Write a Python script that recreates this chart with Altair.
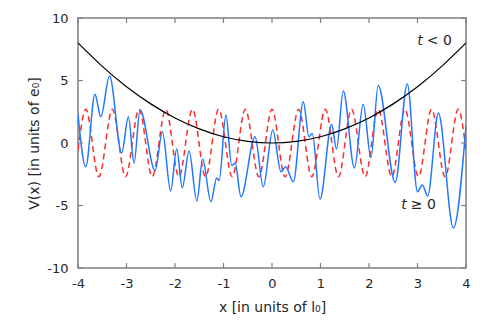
import altair as alt
import pandas as pd

# ---- data ----
# confining potential t < 0 (black)
par_x = [-4.0, -3.5, -3.0, -2.5, -2.0, -1.5, -1.0, -0.5, 0.0, 0.5, 1.0, 1.5, 2.0, 2.5, 3.0, 3.5, 4.0]
par_v = [8.0, 6.13, 4.5, 3.13, 2.0, 1.13, 0.5, 0.13, 0.0, 0.13, 0.5, 1.13, 2.0, 3.13, 4.5, 6.13, 8.0]

# periodic lattice (red dashed): extrema
red_x = [-4.0, -3.84, -3.57, -3.29, -3.02, -2.74, -2.47, -2.19, -1.92, -1.64, -1.37, -1.10, -0.82,
         -0.55, -0.27, 0.0, 0.27, 0.55, 0.82, 1.10, 1.37, 1.64, 1.92, 2.19, 2.47, 2.74, 3.02,
         3.29, 3.57, 3.84, 4.0]
red_v = [-0.6, 2.7, -2.7, 2.7, -2.7, 2.7, -2.7, 2.7, -2.7, 2.7, -2.7, 2.7, -2.7,
         2.7, -2.7, 2.7, -2.7, 2.7, -2.7, 2.7, -2.7, 2.7, -2.7, 2.7, -2.7, 2.7, -2.7,
         2.7, -2.7, 2.7, -0.6]

# disordered potential t >= 0 (blue)
blue_x = [-4.0, -3.84, -3.65, -3.53, -3.35, -3.10, -2.96, -2.845, -2.72, -2.41, -2.26, -2.09,
          -1.965, -1.85, -1.71, -1.55, -1.43, -1.26, -1.14, -1.09, -0.95, -0.83, -0.76, -0.64,
          -0.35, -0.18, 0.015, 0.186, 0.28, 0.44, 0.645, 0.763, 0.831, 0.99, 1.23, 1.33, 1.47,
          1.70, 1.88, 2.04, 2.19, 2.54, 2.79, 3.00, 3.10, 3.21, 3.43, 3.74, 4.0]
blue_v = [2.3, -1.9, 3.9, 2.1, 5.36, -0.8, 2.1, -1.6, 2.64, -2.2, 0.9, -3.84,
          -0.48, -3.57, -0.64, -4.64, -1.3, -4.7, -2.8, -3.0, 2.24, -1.8, -1.6, -4.3,
          0.5, -3.5, 1.04, -2.3, -1.9, -3.1, 3.3, 0.5, 0.77, -4.5, 1.5, -0.48, 4.16,
          -2.0, 3.1, -1.17, 4.6, -3.15, 4.72, -3.9, -3.36, -4.24, 2.4, -6.8, 1.4]

x_ticks = [-4, -3, -2, -1, 0, 1, 2, 3, 4]
y_ticks = [-10, -5, 0, 5, 10]

ann_x = [3.11, 2.78]
ann_y = [8.15, -4.96]
ann_t = ["t", "t"]
ann_rest = ["< 0", "≥ 0"]

GRAY = "#7f7f7f"
FONT = "DejaVu Sans"

xs = alt.Scale(domain=[-4, 4], nice=False, zero=False, padding=0)
ys = alt.Scale(domain=[-10, 10], nice=False, zero=False, padding=0)

x_axis = alt.Axis(values=x_ticks, title="x [in units of l₀]", labelExpr="'' + datum.value",
                  labelFlush=False)
y_axis = alt.Axis(values=y_ticks, title="V(x) [in units of e₀]", labelExpr="'' + datum.value",
                  labelFlush=False)


def X(field="x"):
    return alt.X(f"{field}:Q", scale=xs, axis=x_axis)


def Y(field="v"):
    return alt.Y(f"{field}:Q", scale=ys, axis=y_axis)


par_df = pd.DataFrame({"x": par_x, "v": par_v})
red_df = pd.DataFrame({"x": red_x, "v": red_v})
blue_df = pd.DataFrame({"x": blue_x, "v": blue_v})
ann_df = pd.DataFrame({"x": ann_x, "v": ann_y, "t": ann_t, "rest": ann_rest})
xt_df = pd.DataFrame({"x": x_ticks})
yt_df = pd.DataFrame({"v": y_ticks})

red = alt.Chart(red_df).mark_line(
    color="#ff2a2a", strokeWidth=1.5, strokeDash=[6, 4], interpolate="monotone", clip=True
).encode(x=X(), y=Y())

blue = alt.Chart(blue_df).mark_line(
    color="#2277ff", strokeWidth=1.5, interpolate="monotone", clip=True
).encode(x=X(), y=Y())

black = alt.Chart(par_df).mark_line(
    color="black", strokeWidth=1.2, interpolate="natural", clip=True
).encode(x=X(), y=Y())

t_it = alt.Chart(ann_df).mark_text(
    font=FONT, fontSize=14, fontStyle="italic", align="right", baseline="middle", color="#262626"
).encode(x=X(), y=Y(), text="t:N")

t_rest = alt.Chart(ann_df).mark_text(
    font=FONT, fontSize=14, align="left", baseline="middle", dx=4, color="#262626"
).encode(x=X(), y=Y(), text="rest:N")

# inward tick marks on all four sides
tick_style = dict(color=GRAY, strokeWidth=1.2)
tick_bottom = alt.Chart(xt_df).mark_rule(**tick_style).encode(
    x=X(), y=alt.YDatum(-10), y2=alt.Y2Datum(-9.6))
tick_top = alt.Chart(xt_df).mark_rule(**tick_style).encode(
    x=X(), y=alt.YDatum(10), y2=alt.Y2Datum(9.6))
tick_left = alt.Chart(yt_df).mark_rule(**tick_style).encode(
    y=Y(), x=alt.XDatum(-4), x2=alt.X2Datum(-3.9))
tick_right = alt.Chart(yt_df).mark_rule(**tick_style).encode(
    y=Y(), x=alt.XDatum(4), x2=alt.X2Datum(3.9))

chart = alt.layer(
    red, blue, black, t_it, t_rest, tick_bottom, tick_top, tick_left, tick_right
).properties(
    width=388, height=250,
    autosize=alt.AutoSizeParams(type="none"),
    padding={"left": 70, "top": 10, "right": 16, "bottom": 52},
).configure_view(
    stroke=GRAY, strokeWidth=1.5
).configure_axis(
    domain=False, ticks=False, grid=False,
    labelFont=FONT, labelFontSize=13, labelColor="#262626",
    titleFont=FONT, titleFontSize=14, titleFontWeight="normal", titleColor="#262626",
).configure_axisX(
    labelPadding=9, titlePadding=10,
).configure_axisY(
    labelPadding=10, titlePadding=5,
)

chart.save("out.html", embed_options={"renderer": "svg", "actions": False})
